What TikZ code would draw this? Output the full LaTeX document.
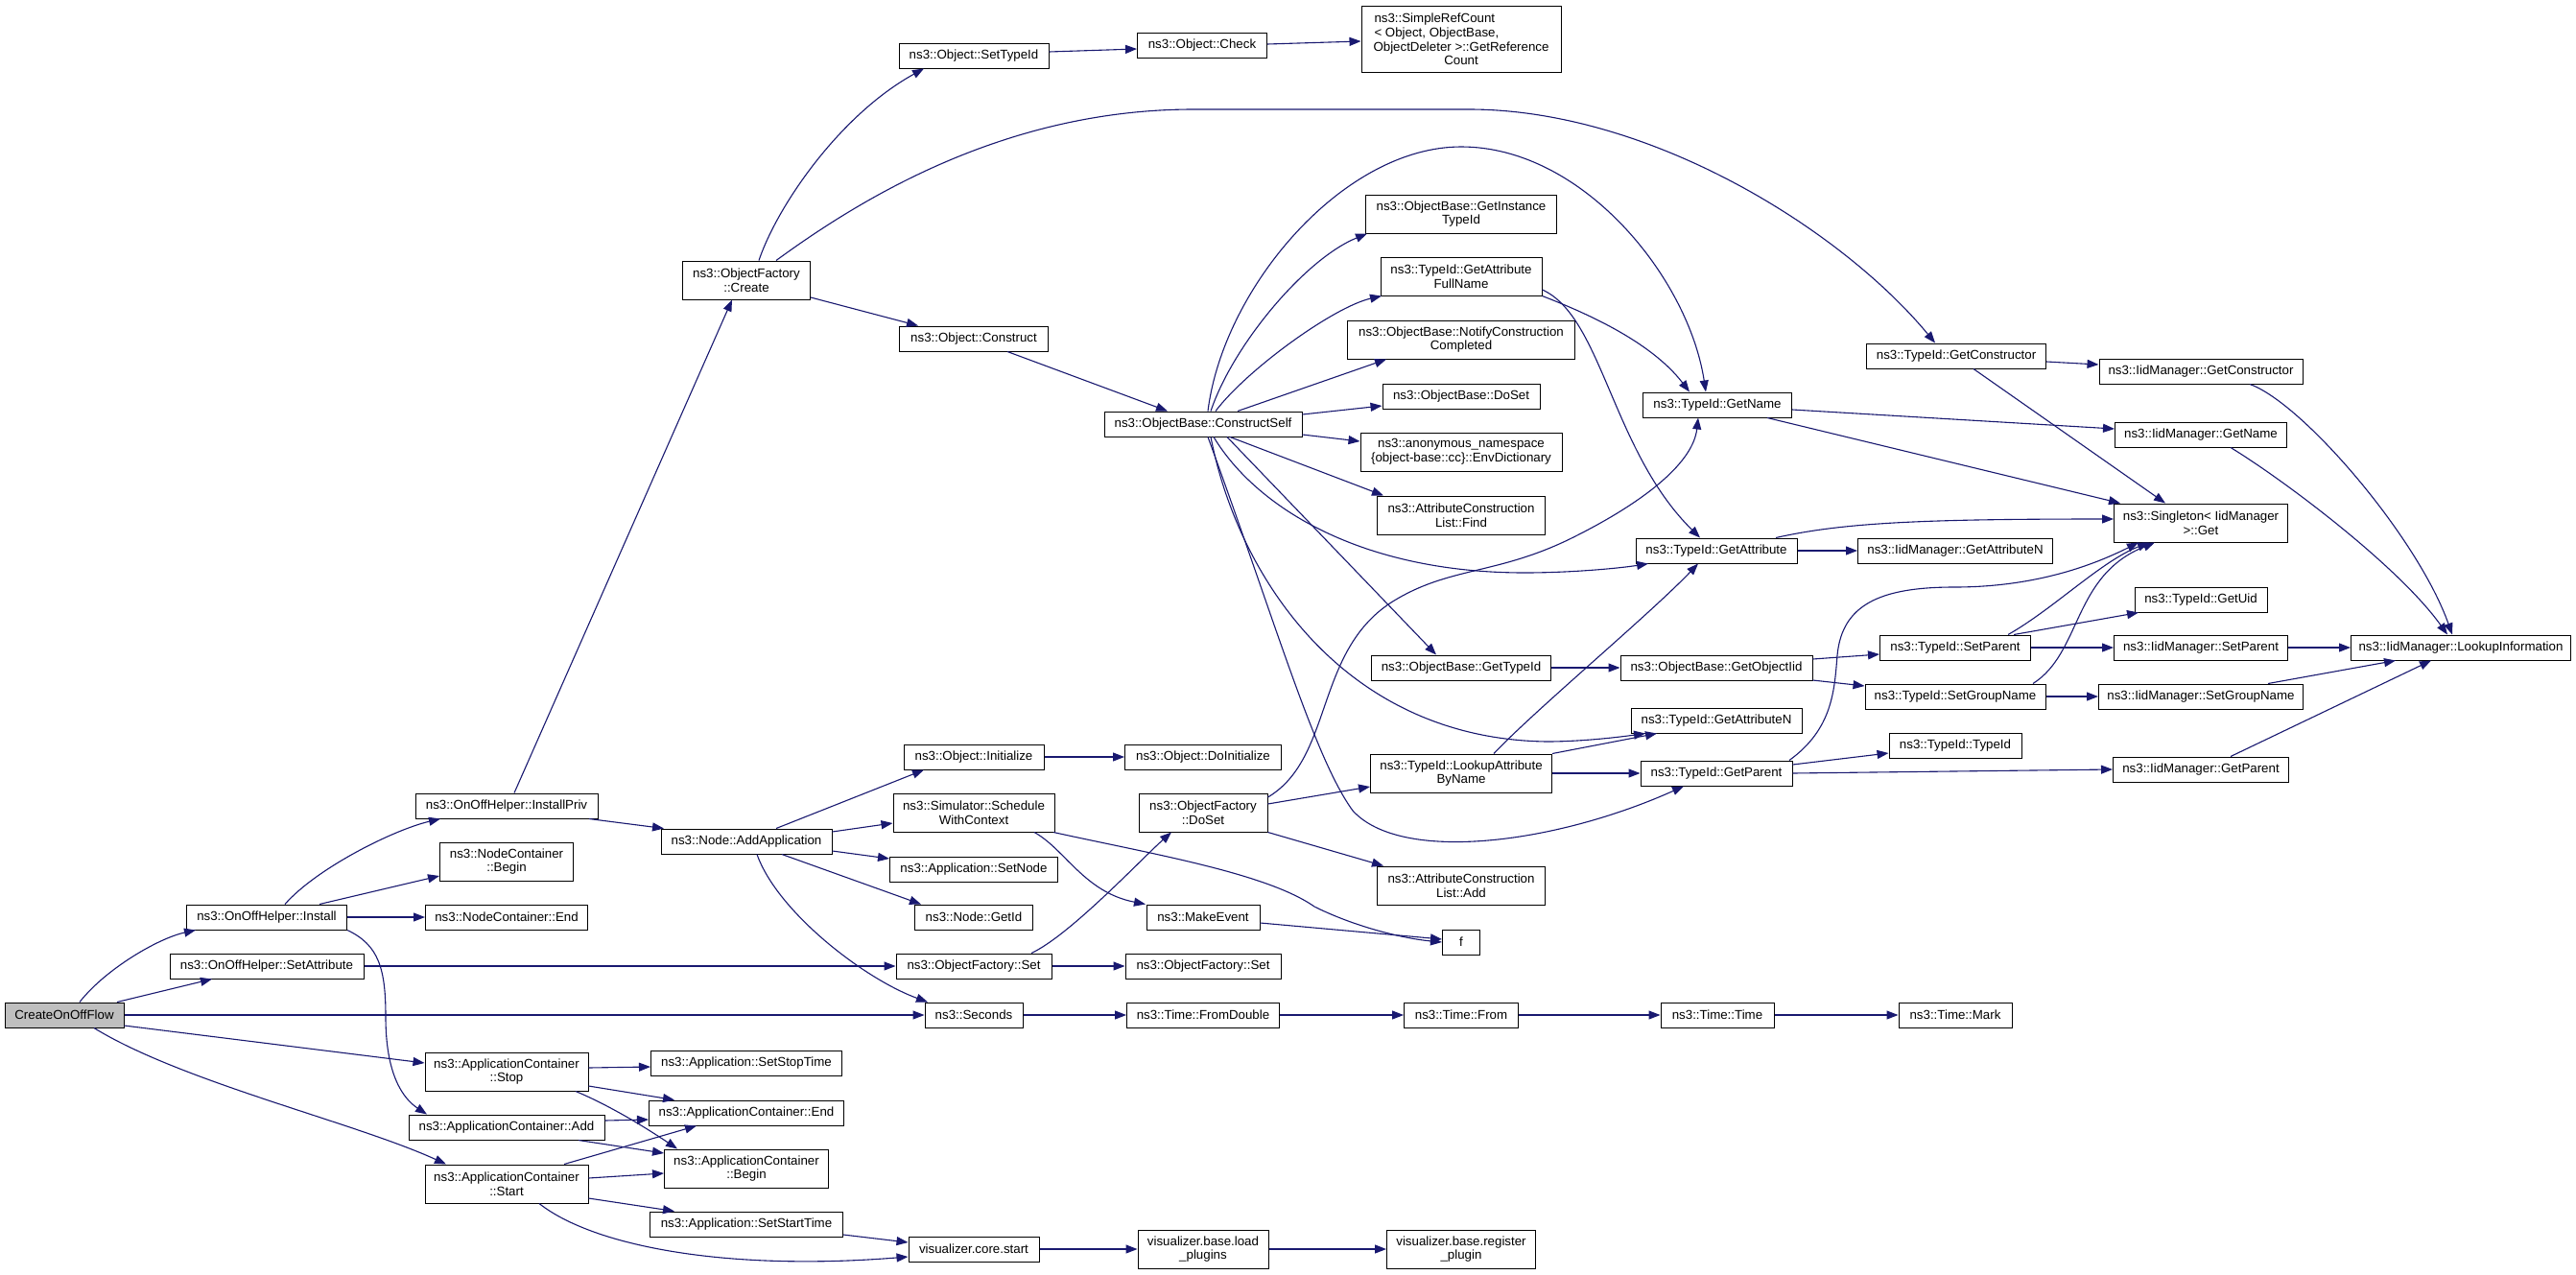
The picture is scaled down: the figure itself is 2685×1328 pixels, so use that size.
\documentclass[tikz,border=0pt]{standalone}
\usepackage{fontspec}
\setmainfont{Liberation Sans}
\usetikzlibrary{arrows.meta}
\definecolor{edgecol}{HTML}{191970}
\definecolor{rootfill}{HTML}{BFBFBF}
\begin{document}
\begin{tikzpicture}[x=1pt,y=-1pt,
  nd/.style={draw=black, fill=white, line width=1pt, inner sep=0pt, align=center,
    font=\fontsize{13.3}{14.6}\selectfont, minimum height=26pt},
  two/.style={minimum height=40pt},
  arr/.style={draw=edgecol, line width=1.1pt, -{Triangle[length=12pt,width=9pt]}}]
\useasboundingbox (0,0) rectangle (2685,1328);
\fill[white] (0,0) rectangle (2685,1328);
% ---------- nodes ----------
\node[nd, fill=rootfill, minimum width=124pt] (cof) at (67,1058) {CreateOnOffFlow};
\node[nd, minimum width=167pt] (install) at (278,956) {ns3::OnOffHelper::Install};
\node[nd, minimum width=202pt] (setattr) at (278,1007) {ns3::OnOffHelper::SetAttribute};
\node[nd, minimum width=190pt] (installpriv) at (528,840) {ns3::OnOffHelper::InstallPriv};
\node[nd, two, minimum width=139pt] (ncbegin) at (528,898) {ns3::NodeContainer\\::Begin};
\node[nd, minimum width=169pt] (ncend) at (528,956) {ns3::NodeContainer::End};
\node[nd, two, minimum width=170pt] (acstop) at (528,1117) {ns3::ApplicationContainer\\::Stop};
\node[nd, minimum width=204pt] (acadd) at (528,1175) {ns3::ApplicationContainer::Add};
\node[nd, two, minimum width=170pt] (acstart) at (528,1234) {ns3::ApplicationContainer\\::Start};
\node[nd, two, minimum width=133pt] (create) at (778,292) {ns3::ObjectFactory\\::Create};
\node[nd, minimum width=178pt] (addapp) at (778,877) {ns3::Node::AddApplication};
\node[nd, minimum width=199pt] (setstop) at (778,1108) {ns3::Application::SetStopTime};
\node[nd, minimum width=203pt] (acend) at (778,1160) {ns3::ApplicationContainer::End};
\node[nd, two, minimum width=171pt] (acbegin) at (778,1218) {ns3::ApplicationContainer\\::Begin};
\node[nd, minimum width=201pt] (setstart) at (778,1276) {ns3::Application::SetStartTime};
\node[nd, minimum width=156pt] (settypeid) at (1015,58) {ns3::Object::SetTypeId};
\node[nd, minimum width=155pt] (construct) at (1015,353) {ns3::Object::Construct};
\node[nd, minimum width=146pt] (init) at (1015,789) {ns3::Object::Initialize};
\node[nd, two, minimum width=168pt] (sched) at (1015,847) {ns3::Simulator::Schedule\\WithContext};
\node[nd, minimum width=175pt] (setnode) at (1015,906) {ns3::Application::SetNode};
\node[nd, minimum width=123pt] (getid) at (1015,956) {ns3::Node::GetId};
\node[nd, minimum width=162pt] (ofset) at (1015,1007) {ns3::ObjectFactory::Set};
\node[nd, minimum width=102pt] (seconds) at (1015,1058) {ns3::Seconds};
\node[nd, minimum width=136pt] (vcstart) at (1015,1302) {visualizer.core.start};
\node[nd, minimum width=135pt] (check) at (1253,47) {ns3::Object::Check};
\node[nd, minimum width=206pt] (cself) at (1254,442) {ns3::ObjectBase::ConstructSelf};
\node[nd, minimum width=163pt] (doinit) at (1254,789) {ns3::Object::DoInitialize};
\node[nd, two, minimum width=134pt] (ofdoset) at (1254,847) {ns3::ObjectFactory\\::DoSet};
\node[nd, minimum width=118pt] (makeevent) at (1254,956) {ns3::MakeEvent};
\node[nd, minimum width=162pt] (ofset2) at (1254,1007) {ns3::ObjectFactory::Set};
\node[nd, minimum width=159pt] (fromdouble) at (1254,1058) {ns3::Time::FromDouble};
\node[nd, two, minimum width=136pt] (loadplugins) at (1254,1302) {visualizer.base.load\\\_plugins};
\node[nd, minimum height=69pt, minimum width=208pt] (simpleref) at (1523,41)
  {\makebox[181pt][l]{ns3::SimpleRefCount}\\\makebox[181pt][l]{< Object, ObjectBase,}\\ObjectDeleter >::GetReference\\Count};
\node[nd, two, minimum width=199pt] (getinst) at (1523,223) {ns3::ObjectBase::GetInstance\\TypeId};
\node[nd, two, minimum width=168pt] (getattrfull) at (1523,288) {ns3::TypeId::GetAttribute\\FullName};
\node[nd, two, minimum width=237pt] (notify) at (1523,354) {ns3::ObjectBase::NotifyConstruction\\Completed};
\node[nd, minimum width=164pt] (obdoset) at (1523,413) {ns3::ObjectBase::DoSet};
\node[nd, two, minimum width=210pt] (envdict) at (1523,471) {ns3::anonymous\_namespace\\\{object-base::cc\}::EnvDictionary};
\node[nd, two, minimum width=175pt] (aclfind) at (1523,537) {ns3::AttributeConstruction\\List::Find};
\node[nd, minimum width=187pt] (obgettypeid) at (1523,696) {ns3::ObjectBase::GetTypeId};
\node[nd, two, minimum width=189pt] (lookupattr) at (1523,806) {ns3::TypeId::LookupAttribute\\ByName};
\node[nd, two, minimum width=175pt] (acladd) at (1523,923) {ns3::AttributeConstruction\\List::Add};
\node[nd, minimum width=39pt] (f) at (1523,982) {f};
\node[nd, minimum width=119pt] (timefrom) at (1523,1058) {ns3::Time::From};
\node[nd, two, minimum width=155pt] (regplugin) at (1523,1302) {visualizer.base.register\\\_plugin};
\node[nd, minimum width=155pt] (tgetname) at (1790,422) {ns3::TypeId::GetName};
\node[nd, minimum width=168pt] (tgetattr) at (1789,574) {ns3::TypeId::GetAttribute};
\node[nd, minimum width=200pt] (getobjiid) at (1789,696) {ns3::ObjectBase::GetObjectIid};
\node[nd, minimum width=178pt] (tgetattrn) at (1789,751) {ns3::TypeId::GetAttributeN};
\node[nd, minimum width=158pt] (tgetparent) at (1789,806) {ns3::TypeId::GetParent};
\node[nd, minimum width=118pt] (timetime) at (1790,1058) {ns3::Time::Time};
\node[nd, minimum width=187pt] (tgetctor) at (2039,371) {ns3::TypeId::GetConstructor};
\node[nd, minimum width=203pt] (iattrn) at (2038,574) {ns3::IidManager::GetAttributeN};
\node[nd, minimum width=157pt] (tsetparent) at (2038,675) {ns3::TypeId::SetParent};
\node[nd, minimum width=188pt] (tsetgroup) at (2038,726) {ns3::TypeId::SetGroupName};
\node[nd, minimum width=138pt] (ttypeid) at (2038,777) {ns3::TypeId::TypeId};
\node[nd, minimum width=118pt] (timemark) at (2038,1058) {ns3::Time::Mark};
\node[nd, minimum width=212pt] (ictor) at (2294,387) {ns3::IidManager::GetConstructor};
\node[nd, minimum width=179pt] (igetname) at (2294,453) {ns3::IidManager::GetName};
\node[nd, two, minimum width=181pt] (singleton) at (2294,545) {ns3::Singleton< IidManager\\ >::Get};
\node[nd, minimum width=138pt] (getuid) at (2294,625) {ns3::TypeId::GetUid};
\node[nd, minimum width=181pt] (isetparent) at (2294,675) {ns3::IidManager::SetParent};
\node[nd, minimum width=213pt] (isetgroup) at (2294,726) {ns3::IidManager::SetGroupName};
\node[nd, minimum width=183pt] (igetparent) at (2294,802) {ns3::IidManager::GetParent};
\node[nd, minimum width=229pt] (lookupinfo) at (2565,675) {ns3::IidManager::LookupInformation};
% ---------- edges ----------
\draw[arr] ([xshift=16pt]cof.north) .. controls (110,1010) and (165,978) .. ([xshift=-74pt]install.south);
\draw[arr] ([xshift=55pt]cof.north) -- ([xshift=-57pt]setattr.south);
\draw[arr] (cof.east) -- (seconds.west);
\draw[arr] ([yshift=-11pt]cof.east) -- ([yshift=9pt]acstop.west);
\draw[arr] ([xshift=31pt]cof.south) .. controls (190,1128) and (370,1170) .. ([xshift=-63pt]acstart.north);
\draw[arr] ([xshift=34pt]acstart.south) .. controls (620,1300) and (760,1325) .. ([yshift=-8pt]vcstart.west);
\draw[arr] ([yshift=-11pt]setstart.east) -- ([yshift=7pt]vcstart.west);
\draw[arr] ([xshift=19pt]install.north) .. controls (330,905) and (410,865) .. ([xshift=-69pt]installpriv.south);
\draw[arr] ([xshift=55pt]install.north) -- ([yshift=-15pt]ncbegin.west);
\draw[arr] (install.east) -- (ncend.west);
\draw[arr] (install.south east) .. controls (395,985) and (402,1010) .. (402,1060) .. controls (402,1120) and (420,1145) .. ([xshift=-83pt]acadd.north);
\draw[arr] (setattr.east) -- (ofset.west);
\draw[arr] ([xshift=8pt]installpriv.north) -- ([xshift=-15pt]create.south);
\draw[arr] ([xshift=86pt]installpriv.south) -- ([xshift=-86pt]addapp.north);
\draw[arr] ([xshift=13pt]create.north) .. controls (810,215) and (875,120) .. ([xshift=-52pt]settypeid.south);
\draw[arr] ([xshift=31pt]create.north) .. controls (900,205) and (1050,114) .. (1244,114) -- (1531,114) .. controls (1720,114) and (1920,240) .. ([xshift=-22pt]tgetctor.north);
\draw[arr] ([yshift=-18pt]create.east) -- ([xshift=-58pt]construct.north);
\draw[arr] ([yshift=4pt]settypeid.east) -- ([yshift=-4pt]check.west);
\draw[arr] ([yshift=1pt]check.east) -- ([yshift=-2pt]simpleref.west);
\draw[arr] ([xshift=35pt]construct.south) -- ([xshift=-37pt]cself.north);
\draw[arr] ([xshift=5pt]cself.north) .. controls (1275,300) and (1400,153) .. (1523,153) .. controls (1650,153) and (1760,290) .. ([xshift=-12pt]tgetname.north);
\draw[arr] ([xshift=8pt]cself.north) .. controls (1285,360) and (1360,270) .. ([xshift=-98pt]getinst.south);
\draw[arr] ([xshift=13pt]cself.north) .. controls (1300,385) and (1390,320) .. ([xshift=-83pt]getattrfull.south);
\draw[arr] ([xshift=36pt]cself.north) -- ([xshift=-78pt]notify.south);
\draw[arr] ([yshift=10pt]cself.east) -- ([yshift=-10pt]obdoset.west);
\draw[arr] ([yshift=-11pt]cself.east) -- ([yshift=11pt]envdict.west);
\draw[arr] ([xshift=28pt]cself.south) -- ([xshift=-81pt]aclfind.north);
\draw[arr] ([xshift=11pt]cself.south) .. controls (1310,530) and (1420,597) .. (1589,597) .. controls (1640,597) and (1690,592) .. ([xshift=-71pt]tgetattr.south);
\draw[arr] ([xshift=25pt]cself.south) -- ([xshift=-26pt]obgettypeid.north);
\draw[arr] ([xshift=8pt]cself.south) .. controls (1290,600) and (1400,770) .. (1612,773) .. controls (1650,773) and (1690,768) .. ([xshift=-74pt]tgetattrn.south);
\draw[arr] ([xshift=5pt]cself.south) .. controls (1330,650) and (1370,790) .. (1410,845) .. controls (1460,900) and (1620,880) .. ([xshift=-34pt]tgetparent.south);
\draw[arr] (getattrfull.south east) .. controls (1650,325) and (1720,355) .. ([xshift=-29pt]tgetname.north);
\draw[arr] ([yshift=-14pt]getattrfull.east) .. controls (1670,330) and (1680,470) .. ([xshift=-17pt]tgetattr.north);
\draw[arr] ([yshift=-5pt]tgetname.east) -- ([yshift=6pt]igetname.west);
\draw[arr] ([xshift=52pt]tgetname.south) -- ([xshift=-84pt]singleton.north);
\draw[arr] ([yshift=-6pt]tgetctor.east) -- ([yshift=7pt]ictor.west);
\draw[arr] ([xshift=18pt]tgetctor.south) -- ([xshift=-37pt]singleton.north);
\draw[arr] ([xshift=51pt]ictor.south) .. controls (2400,420) and (2520,560) .. ([xshift=-9pt]lookupinfo.north);
\draw[arr] ([xshift=31pt]igetname.south) .. controls (2380,500) and (2500,590) .. ([xshift=-14pt]lookupinfo.north);
\draw[arr] ([xshift=62pt]tgetattr.north) .. controls (1920,545) and (2000,541) .. ([yshift=4pt]singleton.west);
\draw[arr] (tgetattr.east) -- (iattrn.west);
\draw[arr] (obgettypeid.east) -- (getobjiid.west);
\draw[arr] ([yshift=9pt]getobjiid.east) -- ([yshift=-7pt]tsetparent.west);
\draw[arr] ([yshift=-13pt]getobjiid.east) -- ([yshift=11pt]tsetgroup.west);
\draw[arr] ([xshift=61pt]tsetparent.north) -- ([xshift=-65pt]getuid.south);
\draw[arr] ([xshift=55pt]tsetparent.north) .. controls (2140,635) and (2190,585) .. ([xshift=-54pt]singleton.south);
\draw[arr] (tsetparent.east) -- (isetparent.west);
\draw[arr] (isetparent.east) -- (lookupinfo.west);
\draw[arr] ([xshift=81pt]tsetgroup.north) .. controls (2170,680) and (2160,600) .. ([xshift=-48pt]singleton.south);
\draw[arr] (tsetgroup.east) -- (isetgroup.west);
\draw[arr] ([xshift=70pt]isetgroup.north) -- ([xshift=-68pt]lookupinfo.south);
\draw[arr] ([xshift=31pt]igetparent.north) -- ([xshift=-31pt]lookupinfo.south);
\draw[arr] ([yshift=9pt]tgetparent.east) -- ([yshift=-8pt]ttypeid.west);
\draw[arr] (tgetparent.east) -- (igetparent.west);
\draw[arr] ([xshift=76pt]tgetparent.north) .. controls (1910,760) and (1912,720) .. (1915,683) .. controls (1920,630) and (1960,612) .. (2037,612) .. controls (2120,612) and (2180,590) .. ([xshift=-65pt]singleton.south);
\draw[arr] ([xshift=34pt]lookupattr.north) .. controls (1600,740) and (1720,640) .. ([xshift=-19pt]tgetattr.south);
\draw[arr] (lookupattr.north east) -- ([xshift=-62pt]tgetattrn.south);
\draw[arr] (lookupattr.east) -- (tgetparent.west);
\draw[arr] ([yshift=16pt]ofdoset.east) .. controls (1390,790) and (1370,680) .. (1450,628) .. controls (1510,590) and (1560,600) .. (1640,560) .. controls (1720,520) and (1765,480) .. ([xshift=-20pt]tgetname.south);
\draw[arr] ([yshift=9pt]ofdoset.east) -- ([yshift=-14pt]lookupattr.west);
\draw[arr] (ofdoset.south east) -- ([xshift=-81pt]acladd.north);
\draw[arr] ([xshift=31pt]addapp.north) -- ([xshift=-52pt]init.south);
\draw[arr] ([yshift=10pt]addapp.east) -- ([yshift=-11pt]sched.west);
\draw[arr] ([yshift=-10pt]addapp.east) -- ([yshift=11pt]setnode.west);
\draw[arr] ([xshift=37pt]addapp.south) -- ([xshift=-55pt]getid.north);
\draw[arr] ([xshift=11pt]addapp.south) .. controls (810,950) and (900,1020) .. ([xshift=-48pt]seconds.north);
\draw[arr] (init.east) -- (doinit.west);
\draw[arr] ([xshift=63pt]sched.south) .. controls (1110,885) and (1130,930) .. ([xshift=-60pt]makeevent.north);
\draw[arr] ([xshift=83pt]sched.south) .. controls (1200,890) and (1320,910) .. (1370,945) .. controls (1410,965) and (1460,978) .. (f.west);
\draw[arr] ([yshift=-6pt]makeevent.east) -- ([yshift=3pt]f.west);
\draw[arr] ([xshift=60pt]ofset.north) .. controls (1115,975) and (1190,895) .. ([xshift=-33pt]ofdoset.south);
\draw[arr] (ofset.east) -- (ofset2.west);
\draw[arr] (seconds.east) -- (fromdouble.west);
\draw[arr] (fromdouble.east) -- (timefrom.west);
\draw[arr] (timefrom.east) -- (timetime.west);
\draw[arr] (timetime.east) -- (timemark.west);
\draw[arr] ([yshift=4pt]acstop.east) -- ([yshift=-4pt]setstop.west);
\draw[arr] ([yshift=-15pt]acstop.east) -- ([xshift=-75pt]acend.north);
\draw[arr] ([xshift=72pt]acstop.south) .. controls (630,1150) and (665,1170) .. ([xshift=-72pt]acbegin.north);
\draw[arr] ([yshift=7pt]acadd.east) -- ([yshift=-7pt]acend.west);
\draw[arr] ([xshift=75pt]acadd.south) -- ([yshift=16pt]acbegin.west);
\draw[arr] ([xshift=60pt]acstart.north) -- ([xshift=-52pt]acend.south);
\draw[arr] ([yshift=6pt]acstart.east) -- ([yshift=-5pt]acbegin.west);
\draw[arr] ([yshift=-15pt]acstart.east) -- ([xshift=-75pt]setstart.north);
\draw[arr] (vcstart.east) -- (loadplugins.west);
\draw[arr] (loadplugins.east) -- (regplugin.west);
\end{tikzpicture}
\end{document}
